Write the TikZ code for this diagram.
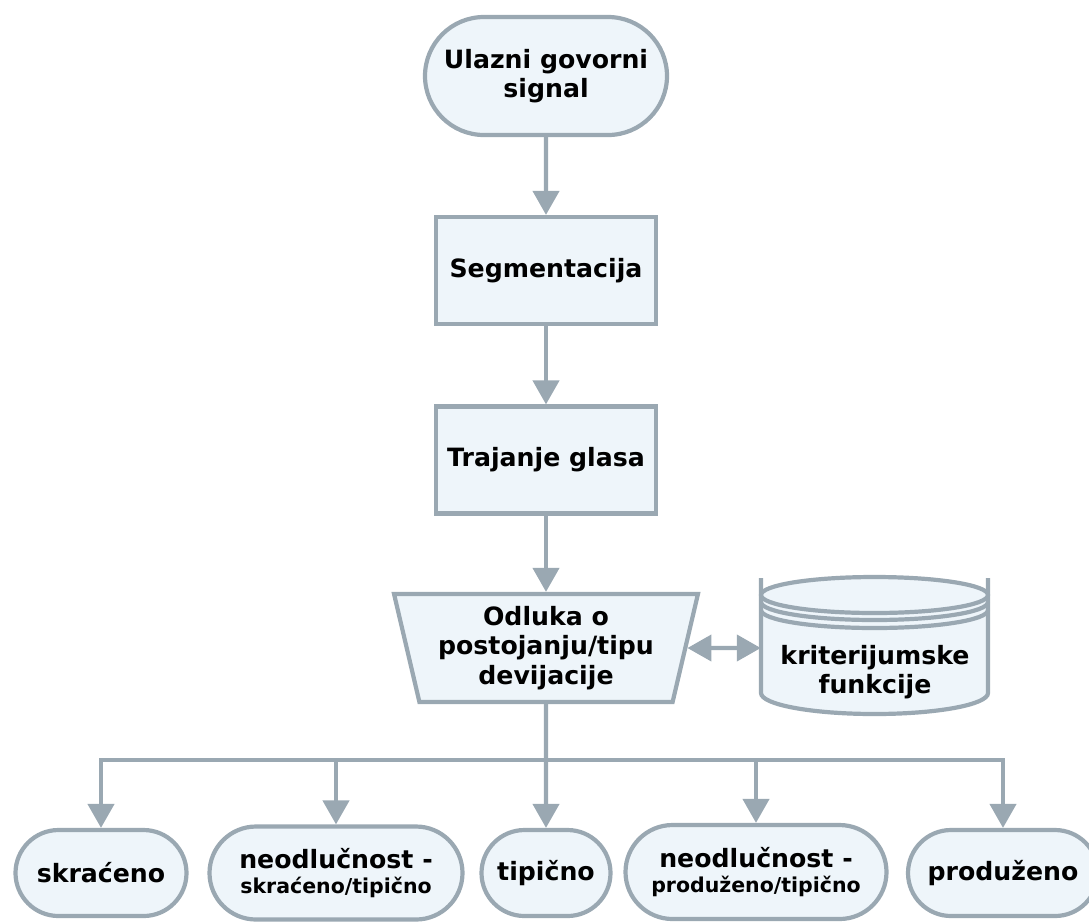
\documentclass[tikz,border=0pt]{standalone}
\usepackage{fontspec}
\setmainfont{DejaVu Sans}
\usetikzlibrary{arrows.meta,shapes.geometric,shapes.misc}

\definecolor{rub}{HTML}{9AA8B2}
\definecolor{pozadina}{HTML}{EEF5FA}
\newcommand{\sitno}{\fontsize{20.5}{24}\selectfont}

\tikzset{
    blok/.style={draw=rub, fill=pozadina, line width=4.2pt, align=center,
        inner sep=0pt, font=\bfseries\fontsize{25.2}{29.5}\selectfont},
    kraj/.style={blok, rounded rectangle},
    korak/.style={blok, rectangle},
    linija/.style={draw=rub, line width=4.2pt},
    strelica/.style={linija, -{Triangle[length=24pt,width=26pt]}},
    dvostruka/.style={linija, {Triangle[length=24pt,width=26pt]}-{Triangle[length=24pt,width=26pt]}}
}

\begin{document}
\begin{tikzpicture}[x=1pt,y=-1pt]

    \useasboundingbox (0,0) rectangle (1089,922);

    % Glavni tok
    \node[kraj, minimum width=242, minimum height=118] (ulaz) at (546,76)
        {Ulazni govorni\\signal};
    \node[korak, minimum width=220, minimum height=107] (seg) at (546,270.5)
        {Segmentacija};
    \node[korak, minimum width=220, minimum height=107] (traj) at (546,460)
        {Trajanje glasa};
    \node[blok, trapezium, shape border rotate=180, trapezium stretches=true,
        trapezium angle=75.5, minimum width=304, minimum height=108] (odl) at (546,648)
        {Odluka o\\postojanju/tipu\\devijacije};

    % Baza
    \node[minimum width=227, minimum height=137, inner sep=0pt] (krit) at (874.5,648) {};
    \begin{scope}[shift={(krit.center)}, rub, line width=4.2pt]
        \fill[pozadina] (-113.5,-53) -- (-113.5,45)
            arc[start angle=180, end angle=0, x radius=113.5, y radius=21]
            -- (113.5,-53) -- cycle;
        \draw[fill=pozadina] (0,-53) ellipse (113.5 and 18);
        \draw (-113.5,-46) arc[start angle=180, end angle=0, x radius=113.5, y radius=18];
        \draw (-113.5,-38) arc[start angle=180, end angle=0, x radius=113.5, y radius=18];
        \draw (-113.5,-70) -- (-113.5,45)
            arc[start angle=180, end angle=0, x radius=113.5, y radius=21]
            -- (113.5,-70);
    \end{scope}
    \node[align=center, font=\bfseries\fontsize{25.2}{29.5}\selectfont] (kritnatpis)
        at (875,672) {kriterijumske\\funkcije};

    % Ishodi
    \node[kraj, minimum width=171, minimum height=86] (skr) at (101,873) {skraćeno};
    \node[kraj, minimum width=253, minimum height=93] (neos) at (336,873)
        {neodlučnost -\\[-5pt]{\sitno skraćeno/tipično}};
    \node[kraj, minimum width=129, minimum height=86] (tip) at (546,873) {tipično};
    \node[kraj, minimum width=261, minimum height=94] (neop) at (756,872)
        {neodlučnost -\\[-5pt]{\sitno produženo/tipično}};
    \node[kraj, minimum width=190, minimum height=86] (prod) at (1003,873) {produženo};

    % Strelice
    \draw[strelica] (ulaz) -- (seg);
    \draw[strelica] (seg) -- (traj);
    \draw[strelica] (traj) -- (odl);
    \draw[dvostruka] (odl.east) -- (krit.west);

    % Grananje
    \coordinate (grana) at (odl.south |- 0,760);
    \draw[strelica] (odl.south) -- (tip.north);
    \draw[strelica] (grana) -| (skr.north);
    \draw[strelica] (grana) -| (neos.north);
    \draw[strelica] (grana) -| (neop.north);
    \draw[strelica] (grana) -| (prod.north);

\end{tikzpicture}
\end{document}
